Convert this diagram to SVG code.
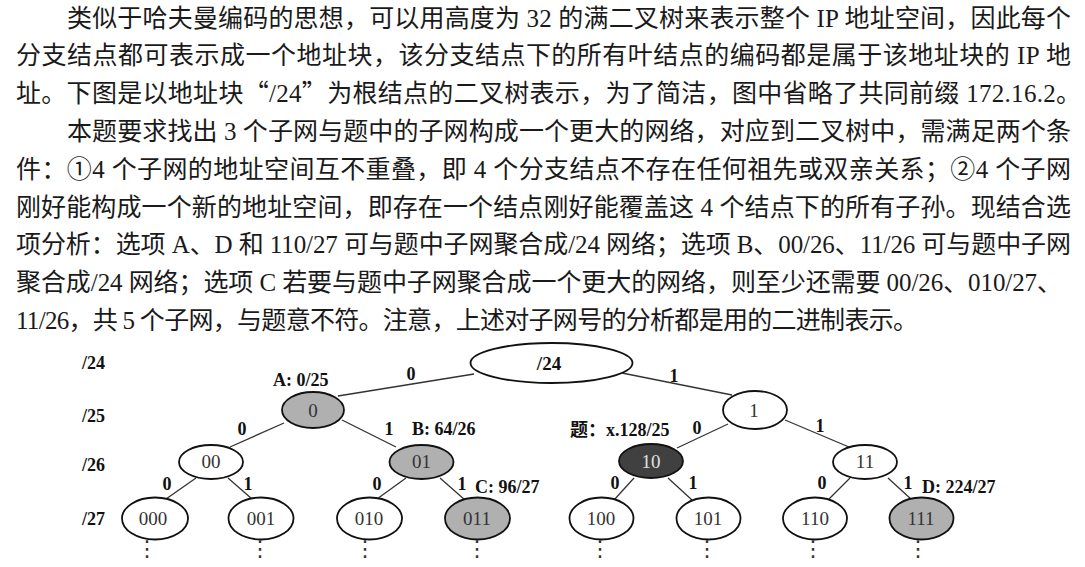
<svg xmlns="http://www.w3.org/2000/svg" width="1085" height="567" viewBox="0 0 1085 567">
  <style>
    .para { font-family: "Liberation Serif", "Noto Sans CJK SC", serif; font-size: 25px; fill: #1a1a1a; }
    .cjk { font-family: "Noto Sans CJK SC", sans-serif; }
    .lvl { font-family: "Liberation Serif", serif; font-size: 18px; font-weight: bold; fill: #111; }
    .tag { font-family: "Liberation Serif", "Noto Sans CJK SC", serif; font-size: 18px; font-weight: bold; fill: #111; }
    .bit { font-family: "Liberation Serif", serif; font-size: 18px; font-weight: bold; fill: #111; text-anchor: middle; }
    .lbl { font-family: "Liberation Serif", serif; font-size: 19px; fill: #333; text-anchor: middle; }
    .node { stroke: #111; stroke-width: 1.8; fill: #fff; }
    .grey { fill: #b0b0b0; }
    .dark { fill: #404040; }
    .lite { fill: #e0e0e0; }
    .edge { stroke: #333; stroke-width: 1.3; fill: none; }
    .more { font-family: "DejaVu Sans", sans-serif; font-size: 22px; fill: #333; text-anchor: middle; }
  </style>

  <!-- explanatory paragraphs -->
  <g id="text" class="para">
    <text x="67" y="26.5" textLength="1004" lengthAdjust="spacing">类似于哈夫曼编码的思想，可以用高度为 32 的满二叉树来表示整个 IP 地址空间，因此每个</text>
    <text x="16" y="64.3" textLength="1055" lengthAdjust="spacing">分支结点都可表示成一个地址块，该分支结点下的所有叶结点的编码都是属于该地址块的 IP 地</text>
    <text x="16" y="102.1" textLength="1065" lengthAdjust="spacing">址。下图是以地址块<tspan class="cjk">“</tspan>/24<tspan class="cjk">”</tspan>为根结点的二叉树表示，为了简洁，图中省略了共同前缀 172.16.2。</text>
    <text x="67" y="139.9" textLength="1004" lengthAdjust="spacing">本题要求找出 3 个子网与题中的子网构成一个更大的网络，对应到二叉树中，需满足两个条</text>
    <text x="16" y="177.7" textLength="1055" lengthAdjust="spacing">件：①4 个子网的地址空间互不重叠，即 4 个分支结点不存在任何祖先或双亲关系；②4 个子网</text>
    <text x="16" y="215.5" textLength="1055" lengthAdjust="spacing">刚好能构成一个新的地址空间，即存在一个结点刚好能覆盖这 4 个结点下的所有子孙。现结合选</text>
    <text x="16" y="253.3" textLength="1055" lengthAdjust="spacing">项分析：选项 A、D 和 110/27 可与题中子网聚合成/24 网络；选项 B、00/26、11/26 可与题中子网</text>
    <text x="16" y="291.1" textLength="1046" lengthAdjust="spacing">聚合成/24 网络；选项 C 若要与题中子网聚合成一个更大的网络，则至少还需要 00/26、010/27、</text>
    <text x="16" y="328.9" textLength="902" lengthAdjust="spacing">11/26，共 5 个子网，与题意不符。注意，上述对子网号的分析都是用的二进制表示。</text>
  </g>

  <!-- prefix length of each tree level -->
  <g id="levels" class="lvl">
    <text x="82" y="369">/24</text>
    <text x="82" y="422">/25</text>
    <text x="82" y="471">/26</text>
    <text x="82" y="525">/27</text>
  </g>

  <!-- branches and their bit labels -->
  <g id="connectors">
    <line class="edge" x1="474" y1="374" x2="338" y2="396"/>
    <line class="edge" x1="622" y1="373" x2="732" y2="395"/>
    <line class="edge" x1="284" y1="423" x2="230" y2="447"/>
    <line class="edge" x1="342" y1="420" x2="396" y2="447"/>
    <line class="edge" x1="728" y1="424" x2="677" y2="448"/>
    <line class="edge" x1="785" y1="420" x2="849" y2="447"/>
    <line class="edge" x1="196" y1="478" x2="166" y2="499"/>
    <line class="edge" x1="228" y1="478" x2="252" y2="499"/>
    <line class="edge" x1="406" y1="478" x2="377" y2="499"/>
    <line class="edge" x1="440" y1="478" x2="465" y2="500"/>
    <line class="edge" x1="634" y1="478" x2="614" y2="500"/>
    <line class="edge" x1="668" y1="478" x2="692" y2="500"/>
    <line class="edge" x1="850" y1="478" x2="829" y2="499"/>
    <line class="edge" x1="888" y1="478" x2="912" y2="500"/>
    <g class="bit">
      <text x="411" y="380">0</text>
      <text x="674" y="382">1</text>
      <text x="242" y="435">0</text>
      <text x="389" y="435">1</text>
      <text x="697" y="434">0</text>
      <text x="820" y="432">1</text>
      <text x="167" y="490">0</text>
      <text x="248" y="490">1</text>
      <text x="377" y="490">0</text>
      <text x="462" y="490">1</text>
      <text x="615" y="489">0</text>
      <text x="693" y="489">1</text>
      <text x="822" y="489">0</text>
      <text x="908" y="489">1</text>
    </g>
  </g>

  <!-- root /24 -->
  <g id="node-root">
    <ellipse class="node" cx="551.5" cy="363" rx="81" ry="20"/>
    <text class="bit" x="549" y="370" style="font-size:19px">/24</text>
  </g>

  <!-- /25 level -->
  <g id="node-0">
    <ellipse class="node grey" cx="313" cy="410" rx="31" ry="18"/>
    <text class="lbl" x="313" y="417">0</text>
    <text class="tag" x="273" y="386">A: 0/25</text>
  </g>
  <g id="node-1">
    <ellipse class="node" cx="755" cy="410" rx="32" ry="19"/>
    <text class="lbl" x="754" y="417">1</text>
  </g>

  <!-- /26 level -->
  <g id="node-00">
    <ellipse class="node" cx="211" cy="462" rx="32" ry="17"/>
    <text class="lbl" x="211" y="468">00</text>
  </g>
  <g id="node-01">
    <ellipse class="node grey" cx="421.5" cy="462" rx="32" ry="17"/>
    <text class="lbl" x="421.5" y="468">01</text>
    <text class="tag" x="412" y="435">B: 64/26</text>
  </g>
  <g id="node-10">
    <ellipse class="node dark" cx="651" cy="461" rx="32" ry="17"/>
    <text class="lbl lite" x="651" y="468">10</text>
    <text class="tag" x="570" y="436">题：x.128/25</text>
  </g>
  <g id="node-11">
    <ellipse class="node" cx="865" cy="462" rx="32" ry="17"/>
    <text class="lbl" x="865" y="468">11</text>
  </g>

  <!-- /27 level -->
  <g id="node-000">
    <ellipse class="node" cx="155" cy="518.5" rx="33" ry="21"/>
    <text class="lbl" x="153" y="525">000</text>
    <text class="more" x="147" y="556">⋮</text>
  </g>
  <g id="node-001">
    <ellipse class="node" cx="261" cy="518.5" rx="32.5" ry="21"/>
    <text class="lbl" x="261" y="525">001</text>
    <text class="more" x="260" y="556">⋮</text>
  </g>
  <g id="node-010">
    <ellipse class="node" cx="369.5" cy="518.5" rx="32.5" ry="21"/>
    <text class="lbl" x="369" y="525">010</text>
    <text class="more" x="365" y="556">⋮</text>
  </g>
  <g id="node-011">
    <ellipse class="node grey" cx="477.5" cy="518.5" rx="32.5" ry="21"/>
    <text class="lbl" x="477" y="525">011</text>
    <text class="tag" x="475" y="493">C: 96/27</text>
    <text class="more" x="477" y="556">⋮</text>
  </g>
  <g id="node-100">
    <ellipse class="node" cx="601.5" cy="518.5" rx="32" ry="21"/>
    <text class="lbl" x="601" y="525">100</text>
    <text class="more" x="600" y="556">⋮</text>
  </g>
  <g id="node-101">
    <ellipse class="node" cx="708.5" cy="518.5" rx="32" ry="21"/>
    <text class="lbl" x="708" y="525">101</text>
    <text class="more" x="707" y="556">⋮</text>
  </g>
  <g id="node-110">
    <ellipse class="node" cx="815" cy="518.5" rx="32" ry="21"/>
    <text class="lbl" x="815" y="525">110</text>
    <text class="more" x="813" y="556">⋮</text>
  </g>
  <g id="node-111">
    <ellipse class="node grey" cx="921.5" cy="518.5" rx="32" ry="21"/>
    <text class="lbl" x="921" y="525">111</text>
    <text class="tag" x="922" y="493">D: 224/27</text>
    <text class="more" x="918" y="556">⋮</text>
  </g>
</svg>
